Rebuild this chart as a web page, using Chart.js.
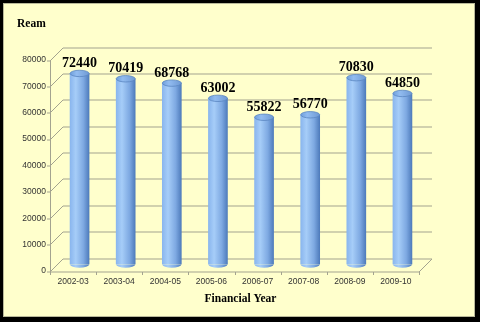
<!DOCTYPE html>
<html lang="en">
<head>
<meta charset="UTF-8">
<title>Ream by Financial Year</title>
<script src="https://cdn.jsdelivr.net/npm/chart.js"></script>
<style>
  html, body { margin: 0; padding: 0; background: #000; }
  canvas { display: block; }
</style>
</head>
<body>
<canvas id="chart" width="480" height="322"></canvas>
<script>
// data
const years = ['2002-03', '2003-04', '2004-05', '2005-06', '2006-07', '2007-08', '2008-09', '2009-10'];
const reams = [72440, 70419, 68768, 63002, 55822, 56770, 70830, 64850];
const yTicks = [0, 10000, 20000, 30000, 40000, 50000, 60000, 70000, 80000];

const DEPTH = 6.5;   // half the 3d depth, px
const BAR_W = 19;
const GRID = '#a3a38f';

// frame + yellow panel
const panel = {
  id: 'panel',
  beforeDraw(chart) {
    const c = chart.ctx;
    c.save();
    c.fillStyle = '#000';
    c.fillRect(0, 0, chart.width, chart.height);
    c.fillStyle = '#ffffcc';
    c.fillRect(3, 3, 472, 314);
    c.strokeStyle = '#b8b89a';
    c.lineWidth = 1;
    c.strokeRect(3.5, 3.5, 471, 313);
    c.restore();
  },
  // back wall grid, floor and axes in fake 3d
  beforeDatasetsDraw(chart) {
    const c = chart.ctx;
    const y = chart.scales.y;
    const a = chart.chartArea;
    const fl = a.left - DEPTH, fr = a.right - DEPTH;   // front plane
    const bl = a.left + DEPTH, br = a.right + DEPTH;   // back plane
    c.save();
    c.strokeStyle = GRID;
    c.lineWidth = 1;
    c.beginPath();
    yTicks.forEach(v => {
      const p = Math.round(y.getPixelForValue(v)) + 0.5;
      c.moveTo(bl, p - DEPTH); c.lineTo(br, p - DEPTH);
      c.moveTo(fl, p + DEPTH); c.lineTo(bl, p - DEPTH);
      c.moveTo(fl - 3, p + DEPTH); c.lineTo(fl, p + DEPTH);
    });
    const top = y.getPixelForValue(80000), base = Math.round(y.getPixelForValue(0)) + 0.5;
    c.moveTo(fl + 0.5, top + DEPTH); c.lineTo(fl + 0.5, base + DEPTH);
    c.moveTo(fl, base + DEPTH); c.lineTo(fr, base + DEPTH);
    c.lineTo(br, base - DEPTH);
    for (let i = 0; i <= years.length; i++) {
      const px = Math.round(fl + (fr - fl) * i / years.length) + 0.5;
      c.moveTo(px, base + DEPTH); c.lineTo(px, base + DEPTH + 3);
    }
    c.stroke();
    c.restore();
  },
  // cylinder caps, value labels, titles
  afterDatasetsDraw(chart) {
    const c = chart.ctx;
    const meta = chart.getDatasetMeta(0);
    c.save();
    meta.data.forEach((bar, i) => {
      const w = BAR_W / 2;
      const g = c.createLinearGradient(bar.x - w, 0, bar.x + w, 0);
      g.addColorStop(0, '#6f9fdc');
      g.addColorStop(0.35, '#92bcf0');
      g.addColorStop(1, '#6f9ad4');
      // bottom rounding
      c.fillStyle = bar.options.backgroundColor;
      c.beginPath();
      c.ellipse(bar.x, bar.base, w, 3.2, 0, 0, Math.PI);
      c.fill();
      // top cap
      c.fillStyle = g;
      c.strokeStyle = '#5a86c2';
      c.lineWidth = 0.8;
      c.beginPath();
      c.ellipse(bar.x, bar.y, w, 3.2, 0, 0, Math.PI * 2);
      c.fill();
      c.stroke();
      // value
      c.fillStyle = '#000';
      c.font = 'bold 14px "Liberation Serif", "Times New Roman", serif';
      c.textAlign = 'center';
      c.textBaseline = 'alphabetic';
      c.fillText(String(reams[i]), bar.x, bar.y - 6.5);
    });
    c.fillStyle = '#000';
    c.font = 'bold 11.5px "Liberation Serif", "Times New Roman", serif';
    c.textAlign = 'left';
    c.textBaseline = 'middle';
    c.fillText('Ream', 17, 24);
    c.textAlign = 'center';
    c.fillText('Financial Year', 240.5, 299);
    c.restore();
  }
};

const ctx = document.getElementById('chart').getContext('2d');
new Chart(ctx, {
  type: 'bar',
  data: {
    labels: years,
    datasets: [{
      label: 'Ream',
      data: reams,
      barThickness: BAR_W,
      borderWidth: 0,
      backgroundColor: function(context) {
        const xs = context.chart.scales.x;
        if (!xs || context.dataIndex === undefined) return '#8db8ee';
        const cx = xs.getPixelForValue(context.dataIndex);
        if (!isFinite(cx)) return '#8db8ee';
        const g = context.chart.ctx.createLinearGradient(cx - BAR_W / 2, 0, cx + BAR_W / 2, 0);
        g.addColorStop(0, '#8ab6ee');
        g.addColorStop(0.3, '#a6cdf8');
        g.addColorStop(0.7, '#7ea9e2');
        g.addColorStop(1, '#4f7cbc');
        return g;
      }
    }]
  },
  options: {
    responsive: false,
    animation: false,
    devicePixelRatio: 1,
    layout: { padding: { left: 0, top: 53.5, right: 54.5, bottom: 0 } },
    plugins: {
      legend: { display: false },
      tooltip: { enabled: false }
    },
    scales: {
      x: {
        grid: { display: false, drawTicks: false },
        border: { display: false },
        afterFit: s => { s.height = 57.5; },
        ticks: {
          color: '#333',
          font: { family: '"Liberation Sans", Arial, sans-serif', size: 8.5 },
          padding: 12,
          labelOffset: -DEPTH,
          maxRotation: 0
        }
      },
      y: {
        min: 0,
        max: 80000,
        grid: { display: false, drawTicks: false },
        border: { display: false },
        afterFit: s => { s.width = 56.5; },
        ticks: {
          stepSize: 10000,
          color: '#333',
          font: { family: '"Liberation Sans", Arial, sans-serif', size: 8.5 },
          padding: 10.5,
          labelOffset: DEPTH,
          callback: v => String(v)
        }
      }
    }
  }
  ,plugins: [panel]
});
</script>
</body>
</html>
